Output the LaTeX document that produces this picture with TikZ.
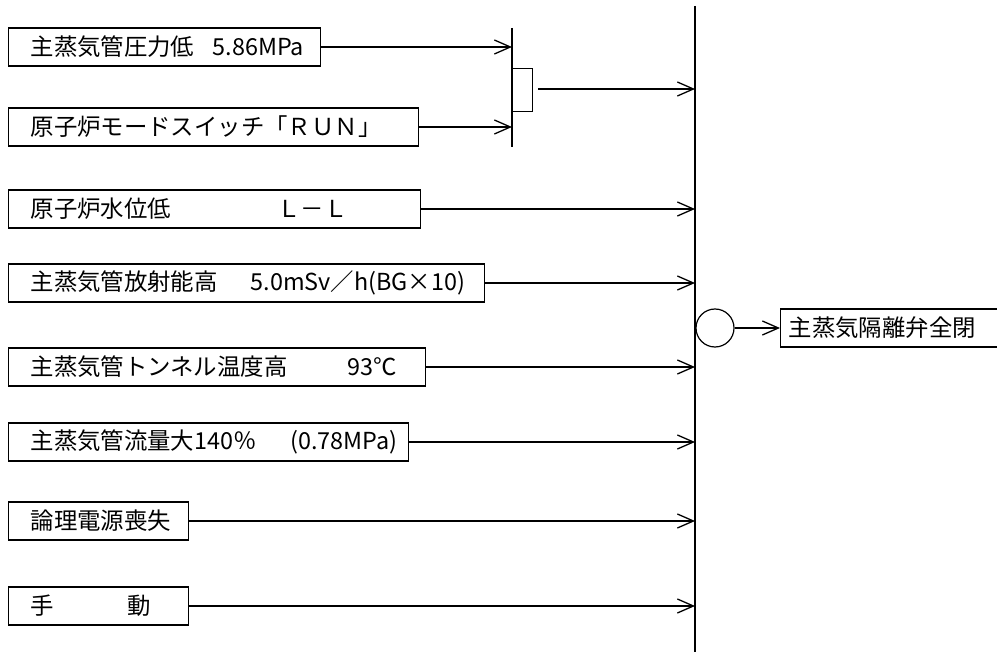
\documentclass[tikz,border=0pt]{standalone}
\usepackage{fontspec}
\newfontfamily\jp{Noto Sans CJK JP}
\usetikzlibrary{arrows.meta}
\begin{document}
\begin{tikzpicture}[x=1pt,y=-1pt,
  every node/.style={font=\jp\fontsize{23.4}{28}\selectfont},
  inbox/.style={draw, line width=1.2pt, anchor=west, inner sep=0pt, minimum height=38pt},
  conn/.style={line width=1.3pt},
  arr/.style={conn, -{Straight Barb[length=16pt,width=14pt]}},
  busline/.style={line width=1.6pt}]
\clip (0,0) rectangle (997,652);
% bus lines
\coordinate (busT) at (695,6);
\coordinate (busB) at (695,652);
\coordinate (andT) at (512,28);
\coordinate (andB) at (512,147);
\draw[busline] (busT) -- (busB);
\draw[conn] (andT) -- (andB);
\node[draw, line width=1.2pt, anchor=north west, inner sep=0pt, minimum width=20pt, minimum height=43pt] (andbox) at (512,68) {};
\coordinate (andout) at (538,89);
% input boxes
\node[inbox] (b1) at (8,47)  {\makebox[312pt][l]{\hspace*{22pt}\makebox[182pt][l]{主蒸気管圧力低}5.86MPa}};
\node[inbox] (b2) at (8,127) {\makebox[410pt][l]{\hspace*{22pt}原子炉モードスイッチ「ＲＵＮ」}};
\node[inbox] (b3) at (8,209) {\makebox[412pt][l]{\hspace*{22pt}\makebox[247pt][l]{原子炉水位低}Ｌ－Ｌ}};
\node[inbox] (b4) at (8,283) {\makebox[476pt][l]{\hspace*{22pt}\makebox[220pt][l]{主蒸気管放射能高}5.0mSv／h(BG×10)}};
\node[inbox] (b5) at (8,367) {\makebox[417pt][l]{\hspace*{22pt}\makebox[317pt][l]{主蒸気管トンネル温度高}93℃}};
\node[inbox] (b6) at (8,442) {\makebox[400pt][l]{\hspace*{22pt}\makebox[260pt][l]{主蒸気管流量大140％}(0.78MPa)}};
\node[inbox] (b7) at (8,521) {\makebox[180pt][l]{\hspace*{22pt}論理電源喪失}};
\node[inbox] (b8) at (8,606) {\makebox[180pt][l]{\hspace*{22pt}\makebox[97pt][l]{手}動}};
% connectors
\draw[arr] (b1.east) -- (b1.east -| andT);
\draw[arr] (b2.east) -- (b2.east -| andT);
\draw[arr] (andout) -- (andout -| busT);
\foreach \b in {b3,b4,b5,b6,b7,b8}
  \draw[arr] (\b.east) -- (\b.east -| busT);
% output
\node[draw, circle, line width=1.2pt, minimum size=38pt, inner sep=0pt] (gate) at (715,328) {};
\node[inbox] (out) at (780,328) {\makebox[240pt][l]{\hspace*{8pt}主蒸気隔離弁全閉}};
\draw[arr] (gate.east) -- (out.west);
\end{tikzpicture}
\end{document}
